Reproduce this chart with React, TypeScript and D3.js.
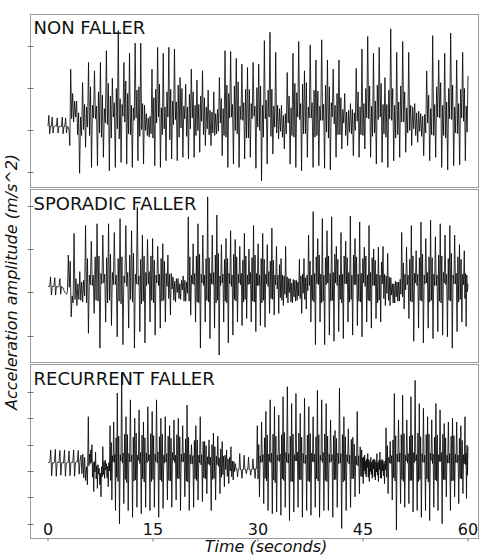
import React, { useEffect, useRef } from "react";
import * as d3 from "d3";

// panel labels and axis ticks
const panelTitles = ["NON FALLER", "SPORADIC FALLER", "RECURRENT FALLER"];
const timeTicks = [0, 15, 30, 45, 60];
const nonFallerTicks = [-5, 0, 5, 10];
const sporadicTicks = [-5, 0, 5, 10];
const recurrentTicks = [-10, -5, 0, 5, 10, 15];

// acceleration (m/s^2).
// rest = standing still before walking; strides = 6 samples per step
// (heel-strike peak, low, high, trough, high, low); end = last sample at 60 s
const nonFallerRest = [
  0.5, 1.8, -0.4, 0.5, 0.5, 1.6, -0.3, 0.5, 0.5, 0.6, 0.5, 1.5, -0.3, 0.5,
  0.5, 0.4, 0.5, 1.6, -0.4, 0.5, 0.5, 1.5, -0.3, 0.5, 0.4, 0.0, -1.8,
];
const nonFallerStrides = [
  7.3, 1.4, 4.4, 1.0, 3.5, 1.6, 3.5, -0.5, 2.1, -5.1, 1.6, -0.6, 5.7, 0.1, 3.1, -2.0, 2.8, 0.4,
  8.1, -0.6, 5.2, -4.4, 3.0, 1.5, 7.1, 1.4, 2.9, -4.2, 4.6, -0.3, 8.1, -0.8, 4.2, -3.2, 2.6, 0.9,
  9.5, 0.7, 5.6, -4.8, 4.1, -0.9, 6.2, 1.6, 3.3, -4.4, 5.0, 0.2, 11.9, -1.0, 3.8, -3.8, 3.1, 1.7,
  8.1, 1.0, 5.9, -4.0, 4.4, -0.4, 9.2, -0.5, 3.0, -4.4, 2.7, 1.2, 10.4, 1.5, 4.8, -3.6, 5.2, -0.7,
  10.4, 0.1, 3.2, -4.0, 3.0, 0.0, 2.0, -0.6, 1.5, -0.8, 1.7, -0.4, 7.3, -0.9, 3.9, -4.2, 4.9, 0.9,
  9.9, 1.6, 5.5, -4.4, 2.7, -0.5, 9.2, 0.2, 2.8, -3.6, 4.6, 1.6, 9.9, -1.1, 4.9, -3.4, 3.5, 0.7,
  9.7, 1.3, 3.4, -3.6, 5.4, -0.8, 6.3, 0.3, 5.0, -3.2, 2.9, 1.4, 5.5, -0.7, 2.8, -3.4, 4.3, 0.2,
  7.3, 1.5, 4.6, -3.2, 3.0, -0.6, 6.0, 0.0, 3.1, -2.6, 4.1, 1.1, 7.1, -0.5, 3.9, -1.8, 2.8, 0.2,
  4.8, -0.5, 2.4, -1.8, 2.2, -0.3, 4.6, -0.6, 2.0, -0.4, 2.5, -0.1, 6.3, 0.9, 3.8, -3.0, 2.6, -0.6,
  9.5, -0.8, 5.4, -4.4, 4.4, 1.5, 9.4, 1.6, 3.1, -4.0, 5.3, 0.0, 8.6, -0.4, 5.8, -4.4, 2.9, 1.3,
  7.9, 1.2, 3.3, -3.4, 4.9, -0.9, 7.5, -0.9, 4.9, -3.2, 3.2, 1.4, 8.1, 1.7, 2.9, -4.5, 5.1, 0.4,
  7.9, 0.0, 5.3, -6.0, 3.0, -0.8, 10.7, 1.4, 3.6, -4.0, 4.8, 1.6, 11.7, -0.7, 4.9, -2.8, 2.9, 0.4,
  9.3, -0.3, 3.0, -1.0, 2.6, -0.1, 3.0, -0.8, 1.8, -2.2, 2.0, -0.4, 6.9, 0.9, 4.1, -4.0, 2.7, -0.6,
  9.2, -0.8, 5.6, -4.4, 4.5, 1.6, 10.6, 1.3, 3.2, -4.8, 5.5, -0.4, 7.1, -0.4, 5.7, -3.2, 2.8, 1.5,
  10.2, 1.5, 3.3, -4.4, 4.8, -0.8, 8.4, -0.6, 4.7, -4.2, 2.9, 1.2, 10.8, 1.2, 3.1, -4.5, 5.4, -0.2,
  8.4, -0.9, 5.2, -4.7, 3.3, 1.6, 7.3, 0.8, 3.0, -3.2, 4.4, -0.5, 8.4, -0.5, 3.9, -2.2, 2.5, 0.9,
  4.4, -0.6, 2.2, -1.8, 2.4, -0.2, 3.2, -0.4, 2.5, -3.0, 2.1, 0.0, 7.4, 1.1, 4.6, -3.2, 2.8, -0.5,
  9.7, -0.6, 3.2, -2.2, 5.0, 1.5, 11.2, 1.4, 5.3, -3.2, 2.9, -0.7, 9.2, -0.3, 3.5, -4.0, 5.4, 1.3,
  9.9, 1.6, 5.6, -3.8, 3.1, -0.4, 6.3, -0.8, 3.1, -4.4, 4.8, 1.4, 12.1, 1.2, 5.0, -3.6, 3.0, -0.9,
  9.3, -0.5, 3.4, -3.2, 5.3, 1.0, 10.6, 1.0, 4.6, -2.6, 2.7, -0.3, 9.3, 0.0, 3.0, -1.8, 2.8, 0.2,
  3.2, -0.6, 2.1, -1.4, 2.3, -0.1, 2.0, -0.7, 1.7, -3.0, 1.9, -0.3, 7.1, 0.9, 4.2, -3.6, 2.6, -0.5,
  11.3, -0.6, 3.1, -3.2, 5.2, 1.6, 8.4, 1.5, 5.7, -4.4, 3.0, -0.6, 9.2, -0.9, 3.4, -4.7, 5.0, 1.4,
  11.6, 1.3, 5.4, -4.2, 2.8, -0.3, 8.4, -0.4, 3.2, -4.1, 4.9, 1.5, 9.3, 1.1, 5.0, -3.6, 2.9, -0.2,
];
const nonFallerEnd = 6.5;
// stride number -> time (s) of its heel-strike peak
const nonFallerAnchorStrides = [1, 9, 21, 36, 45, 57, 69];
const nonFallerAnchorTimes = [3.24, 10.04, 19.67, 31.71, 39.1, 48.96, 59.24];

const sporadicRest = [
  0.7, 0.7, 0.7, 1.8, -0.3, 0.7, 0.7, 0.7, 1.7, -0.3, 0.7, 0.7, 0.6, 0.7, 1.6,
  -0.2, 0.7, 0.6, 0.5, 0.2, 0.0, -0.1, -0.2, 0.2,
];
const sporadicStrides = [
  4.3, 0.6, 3.6, -2.8, -0.4, -1.2, 6.8, -0.8, 1.6, -1.5, 1.0, -0.8, 2.4, -0.9, 1.2, -1.1, 1.4, -0.4,
  7.7, -1.2, 3.9, -4.7, 2.0, 0.9, 5.9, 0.8, 2.0, -2.4, 4.1, -0.9, 7.9, -1.0, 4.2, -6.4, 2.2, 1.0,
  6.6, 1.1, 2.1, -3.4, 4.0, -1.2, 7.9, -0.9, 4.4, -3.8, 2.3, 0.9, 6.9, 0.9, 2.0, -5.1, 3.9, -1.0,
  8.5, -1.3, 4.1, -6.0, 1.9, 1.1, 7.7, 0.7, 2.3, -4.1, 4.3, -0.8, 7.1, -1.1, 4.5, -6.4, 2.1, 1.0,
  9.8, 0.9, 1.9, -4.5, 3.8, -1.3, 6.6, -1.0, 4.2, -5.8, 2.3, 0.8, 6.1, 1.0, 2.4, -3.4, 4.2, -0.9,
  6.2, -1.2, 3.7, -4.9, 2.0, 1.1, 5.3, 0.8, 2.1, -4.1, 3.9, -1.0, 5.6, -0.9, 3.6, -3.4, 2.2, 0.7,
  4.3, -0.7, 2.1, -2.6, 2.2, 0.4, 1.8, -0.9, 1.3, -1.1, 1.6, 0.0, 1.6, -0.7, 1.0, -0.8, 1.4, 0.3,
  1.9, -1.0, 1.4, -1.0, 1.2, -0.1, 8.7, -1.0, 4.1, -2.6, 2.0, 1.0, 5.6, 0.9, 2.2, -3.4, 4.2, -1.1,
  7.9, -1.2, 4.4, -6.4, 2.1, 1.1, 6.6, 0.8, 2.0, -3.4, 3.9, -0.9, 11.0, -1.1, 4.0, -5.3, 2.2, 1.0,
  6.6, 0.9, 2.3, -4.1, 4.3, -1.2, 8.9, -0.9, 4.5, -7.2, 1.9, 0.8, 5.5, 1.1, 2.1, -3.4, 3.8, -1.0,
  6.2, -1.2, 3.9, -5.8, 2.2, 1.0, 7.1, 0.7, 2.0, -4.9, 4.4, -0.8, 6.1, -1.0, 4.1, -3.4, 2.1, 1.1,
  5.3, 0.9, 2.2, -3.8, 3.7, -1.1, 6.8, -0.8, 4.2, -3.0, 2.0, 0.9, 5.0, 1.0, 2.3, -3.4, 4.0, -1.0,
  7.7, -1.1, 4.3, -4.5, 2.2, 0.8, 5.6, 0.8, 2.0, -3.8, 3.9, -1.2, 6.8, -0.9, 3.8, -4.0, 2.1, 1.0,
  5.5, 0.7, 2.4, -2.4, 3.6, -0.7, 7.4, -0.8, 3.7, -2.6, 2.0, 0.9, 5.3, 0.4, 2.0, -2.4, 3.2, -0.6,
  3.9, -0.9, 2.0, -1.5, 1.9, -0.2, 5.3, -0.6, 1.8, -1.2, 1.6, 0.0, 1.6, -1.1, 1.1, -1.2, 1.5, -0.5,
  1.4, -1.0, 1.4, -0.9, 1.2, -0.4, 3.8, -0.7, 1.9, -2.4, 2.1, -0.1, 3.9, -0.8, 1.7, -1.9, 2.0, 0.2,
  6.6, 0.8, 3.6, -3.4, 2.0, -0.9, 9.3, -1.1, 2.2, -6.0, 4.1, 1.0, 6.2, 0.9, 4.3, -3.4, 2.1, -1.2,
  8.5, -1.0, 2.0, -6.0, 4.0, 0.9, 7.1, 1.1, 4.2, -4.9, 2.2, -1.0, 8.7, -0.9, 2.3, -5.6, 4.4, 1.1,
  5.3, 0.8, 3.8, -4.5, 2.0, -0.8, 6.9, -1.2, 2.1, -5.3, 4.2, 1.0, 5.9, 1.0, 4.0, -3.4, 2.3, -1.1,
  8.8, -0.8, 2.0, -4.9, 4.3, 0.9, 6.2, 0.9, 4.1, -3.8, 2.1, -1.0, 8.1, -1.1, 2.2, -5.1, 3.9, 1.1,
  5.2, 0.7, 4.2, -3.4, 2.0, -0.9, 7.7, -1.0, 2.3, -4.1, 4.0, 0.8, 5.0, 0.8, 3.7, -3.0, 2.1, -1.2,
  5.2, -0.9, 2.0, -3.4, 3.5, 1.0, 5.3, -0.7, 2.1, -1.5, 1.9, -0.1, 4.5, -0.9, 1.8, -1.5, 1.7, -0.3,
  1.0, -1.2, 1.0, -1.2, 1.3, -0.5, 1.2, -1.0, 1.2, -1.0, 1.5, -0.2, 6.9, -0.5, 3.4, -1.9, 2.1, 0.3,
  5.2, 0.9, 2.0, -3.0, 3.8, -1.0, 7.7, -1.1, 4.2, -5.6, 2.2, 1.1, 4.8, 0.8, 2.1, -4.1, 4.0, -0.9,
  8.1, -1.0, 4.4, -5.8, 2.0, 1.0, 6.2, 1.1, 2.3, -4.1, 4.1, -1.1, 8.3, -0.9, 4.0, -5.3, 2.1, 0.8,
  6.4, 0.8, 2.0, -4.5, 4.3, -1.0, 7.9, -1.2, 4.2, -4.9, 2.3, 1.1, 6.6, 0.9, 2.1, -5.1, 3.9, -0.9,
  7.7, -1.0, 4.5, -6.4, 2.0, 1.0, 6.6, 1.0, 2.2, -4.5, 4.1, -1.1, 5.5, -0.8, 3.8, -3.4, 2.1, 0.9,
  4.8, -0.7, 2.2, -3.9, 2.0, 0.1,
];
const sporadicEnd = 1.0;
const sporadicAnchorStrides = [1, 13, 23, 27, 52, 69, 82];
const sporadicAnchorTimes = [2.9, 12.76, 20.04, 22.81, 39.19, 50.53, 59.47];

const recurrentRest = [
  1.6, 1.6, 1.7, 4.0, -0.9, 1.6, 1.5, 1.6, 4.1, -1.0, 1.6, 1.7, 1.6, 3.9, -0.8,
  1.6, 1.6, 1.5, 4.0, -1.0, 1.5, 1.6, 1.6, 3.8, -0.9, 1.6, 1.7, 1.6, 4.0, -1.0,
  1.6, 1.8, 1.7, 3.9, -0.6,
  2.0, 3.0, -0.5, 3.2, -1.3, 2.6, -1.8, 0.8, -2.6,
];
const recurrentStrides = [
  10.3, 1.0, 3.2, 1.4, 4.0, 1.6, 5.0, -1.2, 1.6, -3.9, 1.8, -0.2, 3.6, -1.5, 1.0, -3.3, 1.2, -0.6,
  0.5, -2.6, -0.4, -4.9, 0.8, -1.1, 4.6, -0.7, 1.8, -1.4, 2.1, 0.2, 1.4, -1.3, 0.9, -3.0, 1.6, 0.0,
  8.6, -1.8, 5.4, -5.5, 2.9, 1.8, 9.3, 1.6, 3.2, -7.5, 6.3, -1.2, 14.8, -2.0, 6.6, -10.0, 3.1, 1.9,
  18.5, 1.5, 3.4, -6.2, 7.0, -1.6, 10.3, -2.2, 6.9, -7.5, 3.3, 1.7, 13.5, 1.8, 3.0, -8.8, 6.4, -1.9,
  10.0, -1.7, 7.2, -6.9, 3.0, 2.0, 11.6, 1.4, 3.5, -8.1, 6.8, -1.5, 9.3, -2.1, 6.3, -6.9, 3.4, 1.6,
  12.2, 1.9, 3.1, -7.5, 7.1, -2.0, 11.3, -1.6, 6.7, -6.9, 3.2, 1.8, 13.5, 1.5, 3.6, -8.8, 6.5, -1.7,
  10.0, -2.0, 7.0, -7.1, 3.0, 1.5, 10.3, 1.7, 3.3, -5.5, 6.6, -1.8, 8.6, -1.9, 6.2, -6.9, 3.5, 2.0,
  9.7, 1.6, 3.0, -5.5, 6.9, -1.4, 10.0, -1.5, 6.5, -7.5, 3.2, 1.7, 8.6, 1.8, 3.4, -4.9, 6.1, -1.9,
  12.5, -2.1, 6.4, -7.5, 3.1, 1.4, 5.0, 1.3, 2.9, -6.9, 5.8, -1.5, 8.6, -1.8, 5.9, -5.5, 3.0, 1.6,
  10.3, 1.2, 3.1, -5.8, 5.6, -1.3, 5.6, -1.5, 4.8, -4.3, 2.7, 1.3, 5.9, 1.1, 2.6, -7.5, 5.0, -1.6,
  7.2, -1.4, 4.6, -5.5, 2.8, 1.2, 6.6, 0.9, 2.5, -4.3, 4.2, -1.2, 5.6, -0.7, 2.8, -3.0, 3.0, 0.3,
  4.0, -1.0, 2.3, -2.4, 2.6, 0.0, 4.6, -1.1, 1.9, -1.7, 1.8, -0.1, 1.4, 0.3, 0.4, -1.1, 0.3, 0.3,
  3.3, 0.3, 0.3, -1.4, 0.3, 0.3, 3.0, 0.3, 0.3, -0.5, 0.3, 0.3, 2.6, 0.3, 0.3, -0.8, 0.3, 0.3,
  2.3, 0.3, 0.4, -1.4, 0.6, 0.5, 8.6, -1.5, 5.0, -4.9, 2.9, 1.6, 9.3, 1.7, 3.1, -6.2, 6.3, -1.4,
  11.3, -1.9, 6.8, -7.5, 3.2, 1.8, 13.5, 1.6, 3.4, -8.1, 7.0, -1.7, 12.2, -2.2, 6.6, -7.8, 3.0, 2.0,
  10.6, 1.8, 3.2, -8.4, 6.9, -1.5, 14.1, -1.8, 7.3, -6.9, 3.5, 1.7, 16.0, 1.5, 3.3, -9.4, 6.6, -2.0,
  12.8, -2.0, 7.0, -7.8, 3.1, 1.9, 14.7, 1.9, 3.6, -6.9, 7.2, -1.6, 10.9, -1.7, 6.4, -8.8, 3.3, 1.5,
  13.8, 1.4, 3.0, -7.5, 6.8, -1.9, 12.2, -2.1, 7.1, -8.4, 3.4, 1.8, 10.3, 1.7, 3.2, -6.9, 6.5, -1.5,
  15.3, -1.9, 6.9, -8.8, 3.0, 2.0, 13.5, 1.6, 3.5, -7.5, 7.0, -1.8, 12.8, -2.0, 6.6, -7.5, 3.2, 1.6,
  9.7, 1.8, 3.1, -8.8, 6.7, -1.7, 7.7, -1.6, 6.2, -6.9, 3.4, 1.4, 15.7, 1.5, 3.3, -10.9, 6.9, -2.1,
  10.3, -1.8, 6.5, -7.5, 3.1, 1.7, 8.0, 1.3, 3.0, -6.9, 6.0, -1.5, 6.4, -1.4, 5.1, -4.9, 2.8, 1.2,
  11.3, 1.0, 2.9, -4.3, 4.6, -1.0, 4.0, -1.1, 2.5, -2.4, 2.7, 0.0, 3.0, -0.6, 1.9, -1.1, 2.3, 0.6,
  3.3, -1.2, 2.2, -2.0, 1.8, -0.1, 2.6, -0.7, 1.7, -1.4, 2.1, 0.4, 2.3, -1.1, 2.1, -1.7, 1.7, -0.2,
  3.3, -0.8, 1.6, -2.0, 2.0, 0.3, 3.6, -1.3, 2.0, -1.4, 2.2, 0.0, 2.0, -0.9, 1.4, -2.4, 1.9, 0.2,
  8.2, -1.2, 4.8, -4.3, 2.6, 1.5, 5.6, 1.4, 2.9, -5.5, 5.9, -1.3, 14.7, -1.9, 6.7, -11.2, 3.2, 1.8,
  9.7, 1.7, 3.4, -6.2, 6.9, -1.6, 14.4, -2.0, 7.1, -6.9, 3.0, 1.9, 9.7, 1.5, 3.3, -6.2, 6.6, -1.8,
  14.1, -1.8, 6.8, -7.8, 3.5, 1.6, 17.2, 1.9, 3.1, -7.5, 7.2, -2.0, 12.8, -1.6, 6.5, -8.8, 3.3, 1.7,
  11.9, 1.6, 3.0, -7.5, 6.9, -1.5, 10.3, -2.1, 7.0, -9.4, 3.4, 2.0, 9.7, 1.4, 3.2, -6.9, 6.4, -1.7,
  12.8, -1.9, 6.8, -7.5, 3.1, 1.8, 11.6, 1.8, 3.5, -10.0, 7.0, -1.6, 9.0, -1.7, 6.3, -4.9, 3.0, 1.5,
  9.3, 1.5, 3.3, -7.5, 6.6, -1.9, 10.0, -1.8, 6.7, -4.9, 3.2, 1.6, 9.3, 1.6, 3.0, -6.2, 6.2, -1.4,
  8.6, -1.5, 5.8, -4.3, 3.1, 1.4, 10.3, 1.2, 3.4, -5.2, 4.9, -0.8,
];
const recurrentEnd = 4.6;
const recurrentAnchorStrides = [1, 9, 24, 41, 56, 65, 73, 92];
const recurrentAnchorTimes = [5.76, 9.9, 19.24, 29.9, 39.1, 44.81, 48.29, 59.57];

const SAMPLES_PER_STRIDE = 6;

const App = () => {
  const svgRef = useRef<SVGSVGElement>(null);

  useEffect(() => {
    const svg = d3.select(svgRef.current);
    svg.selectAll("*").remove();

    const frameLeft = 30.5;
    const frameRight = 478.5;
    const font = "DejaVu Sans, sans-serif";

    const x = d3.scaleLinear().domain([0, 60]).range([48, 468]);

    const panels = [
      {
        title: panelTitles[0], rest: nonFallerRest, strides: nonFallerStrides, end: nonFallerEnd,
        anchorStrides: nonFallerAnchorStrides, anchorTimes: nonFallerAnchorTimes,
        ticks: nonFallerTicks, top: 14.5, bottom: 187.5, domain: [-6.79, 13.81], titleY: 34,
      },
      {
        title: panelTitles[1], rest: sporadicRest, strides: sporadicStrides, end: sporadicEnd,
        anchorStrides: sporadicAnchorStrides, anchorTimes: sporadicAnchorTimes,
        ticks: sporadicTicks, top: 189.5, bottom: 362.5, domain: [-8.05, 11.84], titleY: 210,
      },
      {
        title: panelTitles[2], rest: recurrentRest, strides: recurrentStrides, end: recurrentEnd,
        anchorStrides: recurrentAnchorStrides, anchorTimes: recurrentAnchorTimes,
        ticks: recurrentTicks, top: 364.5, bottom: 538.5, domain: [-12.81, 20.21], titleY: 385,
      },
    ];

    panels.forEach((p, k) => {
      const g = svg.append("g");
      const y = d3.scaleLinear().domain(p.domain).range([p.bottom, p.top]);
      const values = [...p.rest, ...p.strides, p.end];

      // piecewise sample index -> seconds, pinned at the read-off heel strikes
      const t = d3
        .scaleLinear()
        .domain([
          0,
          ...p.anchorStrides.map((s) => p.rest.length + (s - 1) * SAMPLES_PER_STRIDE),
          values.length - 1,
        ])
        .range([0, ...p.anchorTimes, 60]);

      const line = d3
        .line<number>()
        .x((d, i) => x(t(i)))
        .y((d) => y(d));

      g.append("path")
        .datum(values)
        .attr("d", line)
        .attr("fill", "none")
        .attr("stroke", "#000")
        .attr("stroke-width", 0.8)
        .attr("stroke-linejoin", "round");

      g.append("rect")
        .attr("x", frameLeft)
        .attr("y", p.top)
        .attr("width", frameRight - frameLeft)
        .attr("height", p.bottom - p.top)
        .attr("fill", "none")
        .attr("stroke", "#999")
        .attr("stroke-width", 1);

      g.selectAll("line.ytick")
        .data(p.ticks)
        .enter()
        .append("line")
        .attr("class", "ytick")
        .attr("x1", frameLeft - 3)
        .attr("x2", frameLeft + 3)
        .attr("y1", (d) => Math.round(y(d)) + 0.5)
        .attr("y2", (d) => Math.round(y(d)) + 0.5)
        .attr("stroke", "#777")
        .attr("stroke-width", 1);

      g.append("text")
        .text(p.title)
        .attr("x", 33.5)
        .attr("y", p.titleY)
        .attr("font-family", font)
        .attr("font-size", 18)
        .attr("fill", "#111");

      if (k === panels.length - 1) {
        g.selectAll("line.xtick")
          .data(timeTicks)
          .enter()
          .append("line")
          .attr("class", "xtick")
          .attr("x1", (d) => x(d))
          .attr("x2", (d) => x(d))
          .attr("y1", p.bottom)
          .attr("y2", p.bottom + 3)
          .attr("stroke", "#777");

        g.selectAll("text.xlabel")
          .data(timeTicks)
          .enter()
          .append("text")
          .attr("class", "xlabel")
          .text((d) => d)
          .attr("x", (d) => x(d))
          .attr("y", 534.5)
          .attr("text-anchor", "middle")
          .attr("font-family", font)
          .attr("font-size", 16)
          .attr("fill", "#111");
      }
    });

    svg.append("text")
      .text("Time (seconds)")
      .attr("x", 266)
      .attr("y", 552)
      .attr("text-anchor", "middle")
      .attr("font-family", font)
      .attr("font-style", "italic")
      .attr("font-size", 16)
      .attr("fill", "#111");

    svg.append("text")
      .text("Acceleration amplitude (m/s^2)")
      .attr("transform", "translate(17,282) rotate(-90)")
      .attr("text-anchor", "middle")
      .attr("font-family", font)
      .attr("font-style", "italic")
      .attr("font-size", 16)
      .attr("fill", "#111");
  }, []);

  return (
    <svg
      ref={svgRef}
      width={479}
      height={555}
      style={{ position: "absolute", left: 0, top: 0, background: "#fff" }}
    />
  );
};

export default App;
